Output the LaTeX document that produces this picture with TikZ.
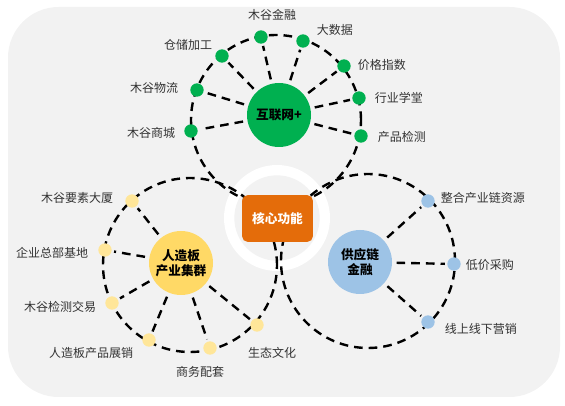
\documentclass[tikz,border=0pt]{standalone}
\usepackage{fontspec}
\setmainfont{Noto Sans CJK SC}
\usepackage{xcolor}
\usepackage{tikz}
\usetikzlibrary{calc}
\definecolor{bggray}{HTML}{F2F2F2}
\definecolor{netgreen}{HTML}{00B050}
\definecolor{hubyellow}{HTML}{FFD966}
\definecolor{dotyellow}{HTML}{FFE699}
\definecolor{finblue}{HTML}{9DC3E6}
\definecolor{coreorange}{HTML}{E46C0A}
\tikzstyle{orbit} = [line width=1.8pt, dash pattern=on 6.5pt off 4.5pt]
\tikzstyle{spoke} = [orbit, shorten <=3pt, shorten >=1.5pt]
\tikzstyle{hub} = [circle, minimum size=48pt, inner sep=0pt, align=center, font=\bfseries\fontsize{9.5}{11.5}\selectfont]
\tikzstyle{bead} = [circle, minimum size=10pt, inner sep=0pt]
\tikzstyle{lbl} = [inner sep=1pt, text=black!80, font=\fontsize{9}{10}\selectfont]
\tikzstyle{corebox} = [fill=coreorange, rounded corners=4pt, minimum width=53pt, minimum height=35pt, text=white, font=\bfseries\fontsize{9.5}{11}\selectfont]

\begin{document}
\begin{tikzpicture}[x=0.75pt, y=-0.75pt, thick]

    % Background panel
    \useasboundingbox (0,0) rectangle (565,406);
    \fill [bggray, rounded corners=38pt] (8,7) rectangle (560,397);

    % White ring round the core
    \fill [white] (277,218) circle [radius=39.75pt];
    \fill [bggray] (277,218) circle [radius=32pt];

    % The dashed orbits
    \draw [orbit] (276,120) circle [radius=63.75pt];
    \draw [orbit] (190,265) circle [radius=65.25pt];
    \draw [orbit] (368,261) circle [radius=65.25pt];

    % The hubs
    \node (net) [hub, fill=netgreen] at (279,115) {互联网+};
    \node (wood) [hub, fill=hubyellow] at (181,263) {人造板\\产业集群};
    \node (fin) [hub, fill=finblue] at (360,262) {供应链\\金融};

    % Green beads
    \node (jr) [bead, fill=netgreen] at (261,37) {};
    \node (dsj) [bead, fill=netgreen] at (303,41) {};
    \node (jg) [bead, fill=netgreen] at (344,66) {};
    \node (hy) [bead, fill=netgreen] at (359,98) {};
    \node (jc) [bead, fill=netgreen] at (361,136) {};
    \node (sc) [bead, fill=netgreen] at (191,131) {};
    \node (wl) [bead, fill=netgreen] at (197,90) {};
    \node (cc) [bead, fill=netgreen] at (222,56) {};

    % Yellow beads
    \node (ds) [bead, fill=dotyellow] at (132,201) {};
    \node (zb) [bead, fill=dotyellow] at (105,250) {};
    \node (jy) [bead, fill=dotyellow] at (112,303) {};
    \node (zx) [bead, fill=dotyellow] at (149,340) {};
    \node (sw) [bead, fill=dotyellow] at (210,348) {};
    \node (st) [bead, fill=dotyellow] at (257,325) {};

    % Blue beads
    \node (zh) [bead, fill=finblue] at (428,201) {};
    \node (dj) [bead, fill=finblue] at (454,264) {};
    \node (xs) [bead, fill=finblue] at (428,322) {};

    % Spokes
    \draw [spoke] (net) -- (jr);
    \draw [spoke] (net) -- (dsj);
    \draw [spoke] (net) -- (jg);
    \draw [spoke] (net) -- (hy);
    \draw [spoke] (net) -- (jc);
    \draw [spoke] (net) -- (sc);
    \draw [spoke] (net) -- (wl);
    \draw [spoke] (net) -- (cc);
    \draw [spoke] (wood) -- (ds);
    \draw [spoke] (wood) -- (zb);
    \draw [spoke] (wood) -- (jy);
    \draw [spoke] (wood) -- (zx);
    \draw [spoke] (wood) -- (sw);
    \draw [spoke] (wood) -- (st);
    \draw [spoke] (fin) -- (zh);
    \draw [spoke] (fin) -- (dj);
    \draw [spoke] (fin) -- (xs);

    % The core
    \node (core) [corebox] at (277.5,218.5) {核心功能};

    % Labels
    \node (tJR) [lbl] at (272,15) {木谷金融};
    \node (tDSJ) [lbl, anchor=west] at (315,30) {大数据};
    \node (tJG) [lbl, anchor=west] at (356,65) {价格指数};
    \node (tHY) [lbl, anchor=west] at (373,98) {行业学堂};
    \node (tJC) [lbl, anchor=west] at (376,137) {产品检测};
    \node (tSC) [lbl, anchor=east] at (177,133) {木谷商城};
    \node (tWL) [lbl, anchor=east] at (180,88) {木谷物流};
    \node (tCC) [lbl, anchor=east] at (214,45) {仓储加工};
    \node (tDS) [lbl, anchor=east] at (115,198) {木谷要素大厦};
    \node (tZB) [lbl, anchor=east] at (90,253) {企业总部基地};
    \node (tJY) [lbl, anchor=east] at (98,307) {木谷检测交易};
    \node (tZX) [lbl, anchor=east] at (135,353) {人造板产品展销};
    \node (tSW) [lbl] at (200,372) {商务配套};
    \node (tST) [lbl] at (272,353) {生态文化};
    \node (tZH) [lbl, anchor=west] at (439,198) {整合产业链资源};
    \node (tDJ) [lbl, anchor=west] at (464,265) {低价采购};
    \node (tXS) [lbl, anchor=west] at (443,329) {线上线下营销};

\end{tikzpicture}
\end{document}
